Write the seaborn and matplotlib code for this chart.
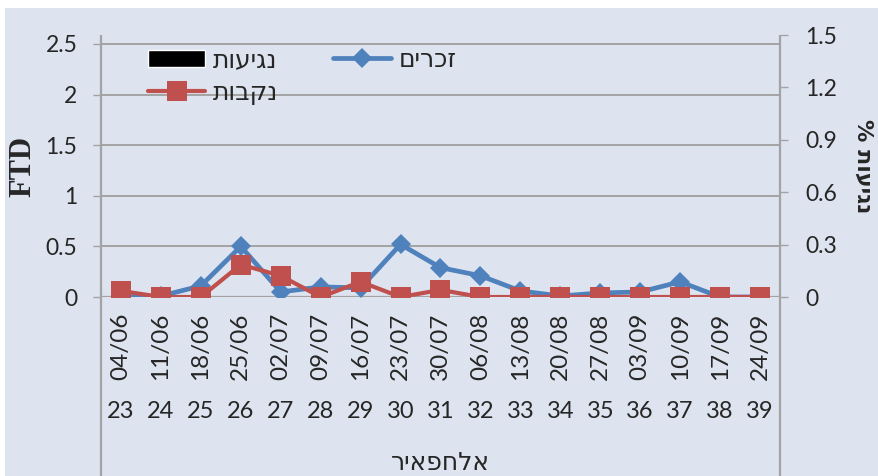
import matplotlib.pyplot as plt
import matplotlib.patches as mpatches
import numpy as np
import pandas as pd
import seaborn as sns

# chart data
weeks = [23, 24, 25, 26, 27, 28, 29, 30, 31, 32, 33, 34, 35, 36, 37, 38, 39]
dates = ['04/06', '11/06', '18/06', '25/06', '02/07', '09/07', '16/07', '23/07', '30/07',
         '06/08', '13/08', '20/08', '27/08', '03/09', '10/09', '17/09', '24/09']
males = [0, 0.01, 0.11, 0.5, 0.05, 0.1, 0.09, 0.52, 0.29, 0.21, 0.06, 0.01, 0.04, 0.05, 0.15, 0, 0]
females = [0.06, 0, 0, 0.32, 0.21, 0, 0.15, 0, 0.07, 0, 0, 0, 0, 0, 0, 0, 0]
hits = [0, 0, 0, 0, 0, 0, 0, 0, 0, 0, 0, 0, 0, 0, 0, 0, 0]

left_ticks = [0, 0.5, 1, 1.5, 2, 2.5]
right_ticks = [0, 0.3, 0.6, 0.9, 1.2, 1.5]

# hebrew labels (matplotlib draws left to right, so reverse them)
lbl_males = 'זכרים'[::-1]
lbl_females = 'נקבות'[::-1]
lbl_hits = 'נגיעות'[::-1]
lbl_x = 'אלחפאיר'[::-1]
lbl_right = '% ' + 'נגיעות'[::-1]

bg = '#dde4ef'
grid_c = '#a3a3a3'

sns.set_style('white', {'axes.facecolor': bg, 'figure.facecolor': 'white'})
plt.rcParams['font.family'] = ['Lato', 'DejaVu Sans']

df = pd.DataFrame({'pos': np.arange(len(weeks)), 'week': weeks, 'date': dates,
                   'males': males, 'females': females, 'hits': hits})

fig = plt.figure(figsize=(8.79, 4.76), dpi=100)
fig.patches.append(mpatches.Rectangle((5 / 879, 0), 1, 1 - 8 / 476, transform=fig.transFigure,
                                      facecolor=bg, edgecolor='none', zorder=-10))
ax = fig.add_axes([101 / 879, 1 - 297 / 476, 679 / 879, 262 / 476])
ax2 = ax.twinx()

sns.barplot(data=df, x='pos', y='hits', color='black', ax=ax2, label=lbl_hits, native_scale=True)
sns.lineplot(data=df, x='pos', y='males', ax=ax, color='#4f81bd', linewidth=3.4, marker='D',
             markersize=10.5, markeredgewidth=0, label=lbl_males, zorder=3)
sns.lineplot(data=df, x='pos', y='females', ax=ax, color='#c0504d', linewidth=3, marker='s',
             markersize=14, markeredgewidth=0, label=lbl_females, zorder=4)

ax.set_zorder(ax2.get_zorder() + 1)
ax.patch.set_visible(False)
ax2.patch.set_visible(False)

ax.set_xlim(-0.5, len(weeks) - 0.5)
ax2.set_xlim(-0.5, len(weeks) - 0.5)
ax.set_ylim(0, 2.5 * 262 / 253)
ax2.set_ylim(0, 1.5)
ax.set_yticks(left_ticks)
ax.set_yticklabels(['0', '0.5', '1', '1.5', '2', '2.5'])
ax2.set_yticks(right_ticks)
ax2.set_yticklabels(['0', '0.3', '0.6', '0.9', '1.2', '1.5'])

ax.grid(axis='y', color=grid_c, linewidth=1.4)
for a in (ax, ax2):
    for s in a.spines.values():
        s.set_visible(False)

# y ticks
ax.tick_params(axis='y', left=True, length=6, width=1, color=grid_c, pad=11, labelsize=16.5)
ax2.tick_params(axis='y', right=True, length=6, width=1, color=grid_c, pad=12, labelsize=16.5)

# x axis: category separators as long ticks, dates as labels
ax.set_xticks(np.arange(len(weeks) + 1) - 0.5)
ax.set_xticklabels([])
ax.set_xticks(df['pos'], minor=True)
ax.set_xticklabels(dates, minor=True, rotation=90, fontsize=17.5, va='top')
ax.tick_params(axis='x', which='major', bottom=True, length=98, width=1, color='#b5b5b5')
ax.tick_params(axis='x', which='minor', bottom=False, length=0, pad=11)
ax2.set_xticks([])
ax.set_xlabel('')
ax.set_ylabel('')
ax2.set_xlabel('')
ax2.set_ylabel('')

trans = ax.get_xaxis_transform()
for p, w in zip(df['pos'], weeks):
    ax.text(p, -115 / 262, str(w), transform=trans, ha='center', va='center', fontsize=17)

# axis lines extend down to the bottom of the chart
ax.vlines([-0.5, len(weeks) - 0.5], -179 / 262, 1, transform=trans, colors=grid_c,
          linewidth=1.6, clip_on=False)
ax.axhline(0, color=grid_c, linewidth=1.6)

ax.text(0.5, -166 / 262, lbl_x, transform=ax.transAxes, ha='center', va='center', fontsize=18)
ax.text(-78 / 679, 0.5, 'FTD', transform=ax.transAxes, ha='center', va='center', rotation=90,
        fontsize=22, fontweight='bold', family='Liberation Serif')
ax.text(762 / 679, 0.5, lbl_right, transform=ax.transAxes, ha='center', va='center',
        rotation=270, fontsize=16, fontweight='bold', family=['DejaVu Sans'])

# legend
h1, l1 = ax.get_legend_handles_labels()
h2, l2 = ax2.get_legend_handles_labels()
lookup = dict(zip(l1 + l2, h1 + h2))
ax.legend([lookup[lbl_hits], lookup[lbl_females], lookup[lbl_males]],
          [lbl_hits, lbl_females, lbl_males], ncol=2, frameon=False, fontsize=18,
          loc='upper left', bbox_to_anchor=(47 / 679, 0.95), borderaxespad=0, borderpad=0,
          handlelength=2.3, handleheight=0.7, handletextpad=0.3, columnspacing=2.2,
          labelspacing=0.4)
if ax2.get_legend():
    ax2.get_legend().remove()

fig.savefig('out.png', dpi=100)
